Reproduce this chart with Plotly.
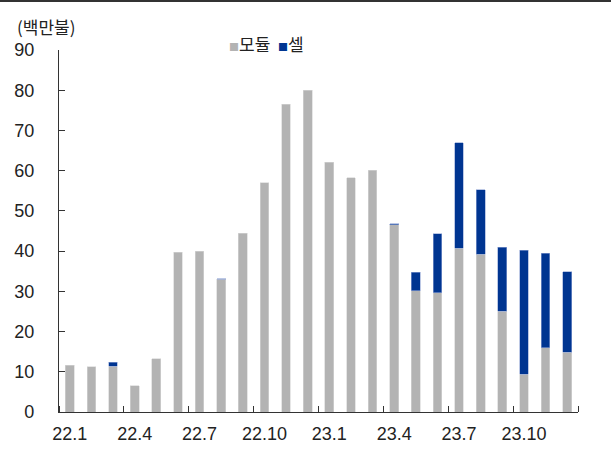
import plotly.graph_objects as go

months = ["22.1","22.2","22.3","22.4","22.5","22.6","22.7","22.8","22.9","22.10","22.11","22.12",
          "23.1","23.2","23.3","23.4","23.5","23.6","23.7","23.8","23.9","23.10","23.11","23.12"]
module = [11.6, 11.3, 11.4, 6.5, 13.2, 39.7, 40.0, 33.0, 44.4, 57.0, 76.5, 80.0,
          62.1, 58.2, 60.1, 46.5, 30.2, 29.7, 40.7, 39.2, 25.0, 9.4, 16.0, 14.9]
cell = [None, None, 1.0, None, None, None, None, 0.1, None, None, None, None,
        None, None, None, 0.3, 4.6, 14.6, 26.2, 16.1, 16.0, 30.8, 23.5, 20.0]
tick_labels = ["22.1", "22.4", "22.7", "22.10", "23.1", "23.4", "23.7", "23.10"]

GRAY = "#b3b3b3"
BLUE = "#003591"
FONT = "Liberation Sans, Noto Sans CJK KR, sans-serif"
KFONT = "Noto Sans CJK KR, sans-serif"

idx = list(range(len(months)))

fig = go.Figure()
fig.add_trace(go.Bar(x=idx, y=module, name="모듈", marker=dict(color=GRAY, line=dict(color="#d6d6d6", width=0.6)),
                     customdata=months, hovertemplate="%{customdata}: %{y}<extra>모듈</extra>"))
fig.add_trace(go.Bar(x=idx, y=cell, name="셀", marker=dict(color=BLUE, line=dict(color="#8fa3d3", width=0.6)),
                     customdata=months, hovertemplate="%{customdata}: %{y}<extra>셀</extra>"))

tickpos = [months.index(t) for t in tick_labels]
boundaries = [i - 0.5 for i in range(0, len(months) + 1, 3)]

fig.update_layout(
    barmode="stack",
    bargap=0.6,
    width=611, height=450,
    margin=dict(l=59, r=33, t=50, b=38, autoexpand=False),
    paper_bgcolor="white", plot_bgcolor="white",
    showlegend=False,
    font=dict(family=FONT, size=18, color="#222222"),
    xaxis=dict(
        range=[-0.5, len(months) - 0.5], automargin=False,
        tickmode="array", tickvals=tickpos, ticktext=tick_labels,
        ticks="", showgrid=False, zeroline=False,
        showline=True, linecolor="#333333", linewidth=1.2,
        ticklabelstandoff=5,
        tickfont=dict(size=18, color="#222222"),
        minor=dict(tickmode="array", tickvals=boundaries, ticks="inside", ticklen=6,
                   tickcolor="#333333", tickwidth=1.2, showgrid=False),
    ),
    yaxis=dict(
        range=[0, 90], dtick=10, tick0=0, automargin=False,
        ticks="inside", ticklen=6, tickcolor="#333333", tickwidth=1.2,
        showgrid=False, zeroline=False,
        showline=True, linecolor="#333333", linewidth=1.2,
        ticklabelstandoff=20,
        tickfont=dict(size=18, color="#222222"),
    ),
    annotations=[
        dict(text="(백만불)", xref="paper", yref="paper", x=-0.085, y=1.065,
             xanchor="left", yanchor="middle", showarrow=False,
             font=dict(size=17, color="#222222", family=KFONT)),
        dict(text=f"<span style='color:{GRAY};font-size:10px'>■</span>모듈  "
                  f"<span style='color:{BLUE};font-size:10px'>■</span>셀",
             xref="paper", yref="paper", x=0.323, y=1.017,
             xanchor="left", yanchor="middle", showarrow=False,
             font=dict(size=17, color="#222222", family=KFONT)),
    ],
    shapes=[
        dict(type="rect", xref="paper", yref="paper", x0=-0.3, x1=1.3, y0=1.1326, y1=1.2,
             fillcolor="#333333", line=dict(width=0), layer="above"),
    ],
)

fig.write_html("out.html")
